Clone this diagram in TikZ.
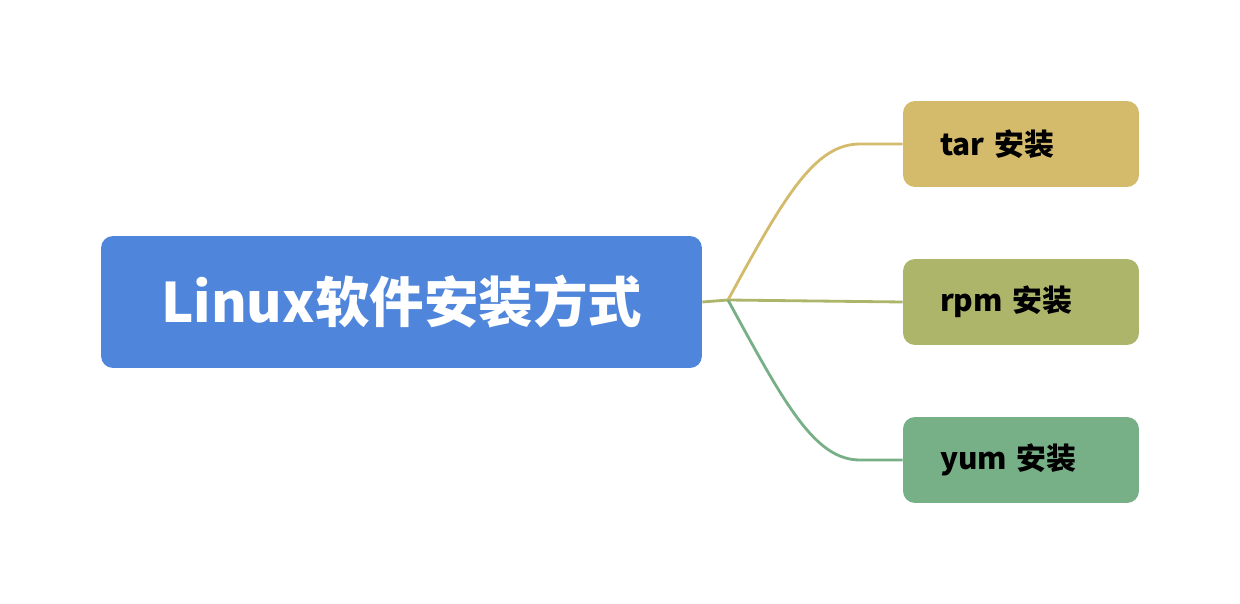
\documentclass[tikz,border=0pt]{standalone}
\usepackage{fontspec}
\setmainfont{Noto Sans CJK SC}
\usetikzlibrary{positioning}
\definecolor{rootblue}{HTML}{4F86DB}
\definecolor{tarcol}{HTML}{D4BB6B}
\definecolor{rpmcol}{HTML}{ADB56A}
\definecolor{yumcol}{HTML}{77AF87}
\tikzstyle{rootbox}=[fill=rootblue, rounded corners=0.24cm, minimum width=12.02cm,
  minimum height=2.64cm, text=white, font=\bfseries\fontsize{31}{36}\selectfont]
\tikzstyle{leaf}=[rounded corners=0.24cm, minimum width=4.72cm, minimum height=1.72cm,
  text width=3.24cm, inner xsep=0.74cm, align=left, font=\bfseries\fontsize{17}{20}\selectfont]
\tikzstyle{branch}=[line width=1.6pt]
\begin{document}
\begin{tikzpicture}[x=0.02cm,y=-0.02cm]
  \useasboundingbox (0,0) rectangle (1240,604);

  % nodes
  \node (ROOT) [rootbox] at (401.5,302) {Linux软件安装方式};
  \node (TAR) [leaf, fill=tarcol] at (1021,144) {tar 安装};
  \node (RPM) [leaf, fill=rpmcol] at (1021,302) {rpm 安装};
  \node (YUM) [leaf, fill=yumcol] at (1021,460) {yum 安装};
  \coordinate (FORK) at (728,300);

  % branches
  \draw [branch, rpmcol] (ROOT.east) -- (FORK) -- (RPM.west);
  \draw [branch, tarcol] (FORK) .. controls (785,195) and (815,144) .. (860,144) -- (TAR.west);
  \draw [branch, yumcol] (FORK) .. controls (785,405) and (815,460) .. (860,460) -- (YUM.west);
\end{tikzpicture}
\end{document}
